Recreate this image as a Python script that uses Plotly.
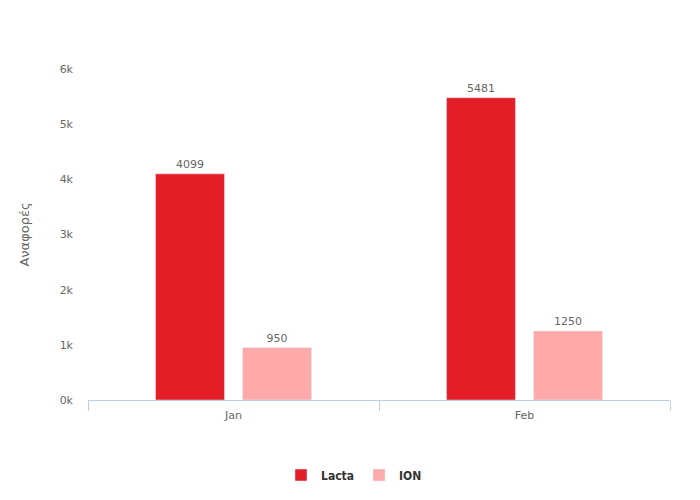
import plotly.graph_objects as go

categories = ["Jan", "Feb"]
lacta = [4099, 5481]
ion = [950, 1250]
y_ticks = [0, 1000, 2000, 3000, 4000, 5000, 6000]
y_tick_labels = ["0k", "1k", "2k", "3k", "4k", "5k", "6k"]

font_family = "DejaVu Sans"
text_col = "#666666"
axis_col = "#C0D0E0"

fig = go.Figure()
fig.add_trace(go.Bar(
    name="Lacta", x=categories, y=lacta, marker_color="#E41E26",
    text=[str(v) for v in lacta], textposition="outside", cliponaxis=False,
    textfont=dict(size=11, color=text_col, family=font_family),
))
fig.add_trace(go.Bar(
    name="ION", x=categories, y=ion, marker_color="#FFAAAA",
    text=[str(v) for v in ion], textposition="outside", cliponaxis=False,
    textfont=dict(size=11, color=text_col, family=font_family),
))

# page body has an 8px margin, so the figure is sized/offset to compensate
fig.update_layout(
    width=692, height=492,
    margin=dict(l=80, r=30, t=61, b=100),
    paper_bgcolor="white", plot_bgcolor="white",
    font=dict(family=font_family, size=11, color=text_col),
    barmode="group", bargap=0.402, bargroupgap=0.207,
    showlegend=True,
    legend=dict(orientation="h", x=0.5, xref="container", xanchor="center",
                y=0.0508, yref="container", yanchor="middle",
                font=dict(size=12, color="#333333", family="DejaVu Sans Condensed",
                          weight="bold"),
                itemwidth=30, traceorder="normal"),
)
fig.update_xaxes(
    showline=True, linecolor=axis_col, linewidth=1,
    ticks="outside", tickson="boundaries", ticklen=10, tickcolor=axis_col,
    tickfont=dict(size=11, color=text_col), showgrid=False, ticklabelstandoff=5,
)
fig.update_yaxes(
    range=[0, 6000], tickvals=y_ticks, ticktext=y_tick_labels,
    showgrid=False, zeroline=False, showline=False,
    tickfont=dict(size=11, color=text_col), ticks="", ticklabelstandoff=14,
    title=dict(text="Αναφορές", font=dict(size=13, color=text_col), standoff=27),
)
fig.write_html("out.html")
